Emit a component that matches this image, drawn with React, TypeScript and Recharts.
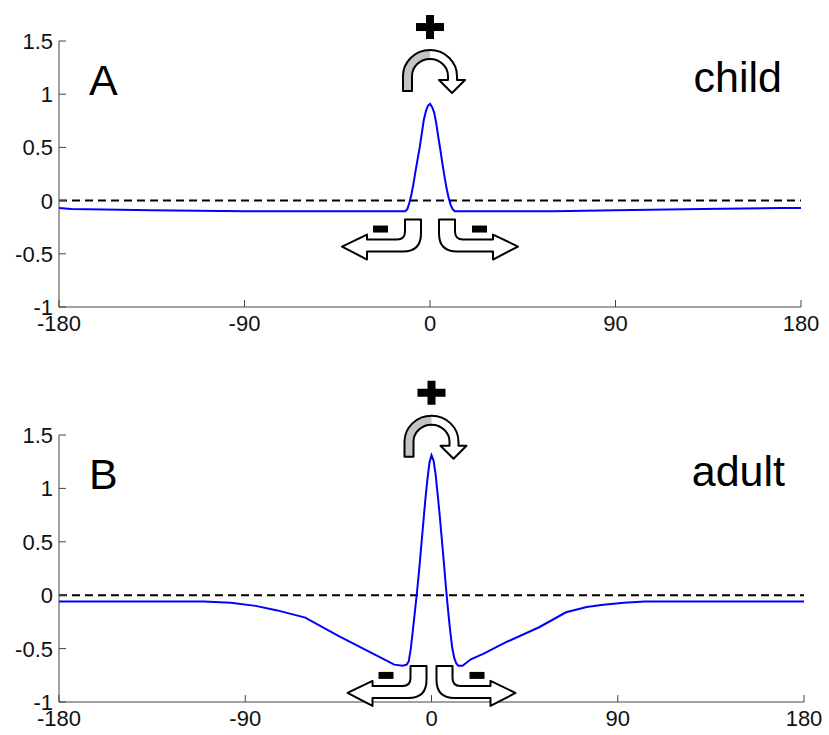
import { LineChart, Line, XAxis, YAxis, ReferenceLine, ReferenceDot } from 'recharts';

// tick labels
const angleTicks = [-180, -90, 0, 90, 180];
const valueTicks = [-1, -0.5, 0, 0.5, 1, 1.5];

// panel A: child
const childAngles = [
    -180, -174, -135, -90, -13, -12, -11, -10, -9, -8, -7, -6, -5, -4, -3, -2, -1, 0,
    1, 2, 3, 4, 5, 6, 7, 8, 9, 10, 11, 12, 13, 60, 90, 132, 170, 180,
];
const childValues = [
    -0.07, -0.08, -0.09, -0.1, -0.1, -0.1, -0.08, -0.02, 0.06, 0.16, 0.28, 0.39, 0.5, 0.63, 0.76, 0.84, 0.89, 0.91,
    0.88, 0.83, 0.73, 0.6, 0.48, 0.35, 0.23, 0.12, 0.03, -0.04, -0.08, -0.1, -0.1, -0.1, -0.09, -0.08, -0.07, -0.07,
];

// panel B: adult
const adultAngles = [
    -180, -110, -97, -85, -75, -61, -45, -29, -18, -14, -12, -11, -10, -9, -8, -7, -6, -5, -4, -3, -2, -1, 0,
    1, 2, 3, 4, 5, 6, 7, 8, 9, 10, 11, 12, 13, 15, 19, 25, 36, 52, 65, 75, 83, 93, 103, 180,
];
const adultValues = [
    -0.06, -0.06, -0.07, -0.1, -0.14, -0.21, -0.38, -0.54, -0.65, -0.66, -0.65, -0.62, -0.5, -0.33, -0.15, 0.03, 0.23, 0.45, 0.67, 0.89, 1.08, 1.24, 1.31,
    1.26, 1.13, 0.94, 0.74, 0.52, 0.3, 0.07, -0.14, -0.33, -0.49, -0.59, -0.64, -0.66, -0.66, -0.6, -0.55, -0.44, -0.3, -0.16, -0.11, -0.09, -0.07, -0.06, -0.06,
];

const font = '"Liberation Sans", Arial, sans-serif';
const frame = '#444';

function toRows(angles: number[], values: number[]) {
    return angles.map((a, i) => ({ angle: a, value: values[i] }));
}

const AngleTick = (props: any) => {
    const { x, y, payload } = props;
    return (
        <text x={x} y={y + 16} textAnchor="middle" fontFamily={font} fontSize={22} fill="#111">
            {payload.value}
        </text>
    );
};

const ValueTick = (props: any) => {
    const { x, y, payload } = props;
    return (
        <text x={x} y={y + 8} textAnchor="end" fontFamily={font} fontSize={22} fill="#111">
            {payload.value}
        </text>
    );
};

// curved arrow with the plus sign above the peak
const TopMark = (props: any) => {
    const { cx, cy } = props;
    const outline = 'M -27 41 L -27 26 A 27 26 0 0 1 27 26 L 27 30 L 35 30 L 22 43 L 9 30 L 18 30 L 18 26 A 18 17 0 0 0 -18 26 L -18 41 Z';
    const leftHalf = 'M -27 41 L -27 26 A 27 26 0 0 1 0 0 L 0 9 A 18 17 0 0 0 -18 26 L -18 41 Z';
    return (
        <g transform={`translate(${cx},${cy})`}>
            <rect x={-14} y={-27} width={28} height={8} fill="#000" />
            <rect x={-4} y={-35} width={8} height={24} fill="#000" />
            <path d={outline} fill="#fff" />
            <path d={leftHalf} fill="#c4c4c4" />
            <path d={outline} fill="none" stroke="#000" strokeWidth={2} strokeLinejoin="round" />
        </g>
    );
};

// the two outward arrows with minus signs under the peak
const makeBottomMark = (inset: number) => (props: any) => {
    const { cx, cy } = props;
    const arrow = 'M -9 0 L -9 14 Q -9 32 -27 32 L -63 32 L -63 40 L -88 27 L -63 15 L -63 20 L -33 20 Q -25 20 -25 12 L -25 0 Z';
    const half = (
        <g transform={`translate(${inset},0)`}>
            <path d={arrow} fill="#fff" stroke="#000" strokeWidth={2} strokeLinejoin="round" />
            <rect x={-57} y={6} width={15} height={7} fill="#000" />
        </g>
    );
    return (
        <g transform={`translate(${cx},${cy})`}>
            {half}
            <g transform="scale(-1,1)">{half}</g>
        </g>
    );
};

const makeText = (text: string, dx: number, dy: number, anchor: 'start' | 'end') => (props: any) => (
    <text
        x={props.cx + dx}
        y={props.cy + dy}
        textAnchor={anchor}
        fontFamily={font}
        fontSize={43}
        fill="#000"
    >
        {text}
    </text>
);

interface PanelProps {
    angles: number[];
    values: number[];
    letter: string;
    name: string;
    topAt: number;
    bottomAt: number;
    inset: number;
    height: number;
    margin: { top: number; right: number; bottom: number; left: number };
}

function Panel({ angles, values, letter, name, topAt, bottomAt, inset, height, margin }: PanelProps) {
    const data = toRows(angles, values);
    return (
        <LineChart width={829} height={height} data={data} margin={margin}>
            <XAxis
                dataKey="angle"
                type="number"
                domain={[-180, 180]}
                ticks={angleTicks}
                interval={0}
                height={30}
                tickSize={-7}
                tickMargin={15}
                axisLine={{ stroke: frame }}
                tickLine={{ stroke: frame }}
                tick={<AngleTick />}
            />
            <XAxis
                xAxisId="top"
                orientation="top"
                type="number"
                domain={[-180, 180]}
                ticks={angleTicks}
                interval={0}
                height={0}
                tickSize={-7}
                axisLine={{ stroke: frame }}
                tickLine={{ stroke: frame }}
                tick={false}
            />
            <YAxis
                type="number"
                domain={[-1, 1.5]}
                ticks={valueTicks}
                interval={0}
                width={50}
                tickSize={-7}
                tickMargin={13}
                axisLine={{ stroke: frame }}
                tickLine={{ stroke: frame }}
                tick={<ValueTick />}
            />
            <YAxis
                yAxisId="right"
                orientation="right"
                type="number"
                domain={[-1, 1.5]}
                ticks={valueTicks}
                interval={0}
                width={0}
                tickSize={-7}
                axisLine={{ stroke: frame }}
                tickLine={{ stroke: frame }}
                tick={false}
            />
            <ReferenceLine y={0} stroke="#000" strokeWidth={2} strokeDasharray="8 5" />
            <Line
                type="linear"
                dataKey="value"
                stroke="#0000ff"
                strokeWidth={2}
                dot={false}
                isAnimationActive={false}
            />
            <ReferenceDot x={-180} y={1.5} r={0} ifOverflow="visible" shape={makeText(letter, 30, 54, 'start')} />
            <ReferenceDot x={180} y={1.5} r={0} ifOverflow="visible" shape={makeText(name, -19, 51, 'end')} />
            <ReferenceDot x={0} y={topAt} r={0} ifOverflow="visible" shape={TopMark} />
            <ReferenceDot x={0} y={bottomAt} r={0} ifOverflow="visible" shape={makeBottomMark(inset)} />
        </LineChart>
    );
}

export default function App() {
    return (
        <div style={{ position: 'absolute', left: 0, top: 0, width: 829, height: 735, background: '#fff' }}>
            <div style={{ position: 'absolute', left: 0, top: 0 }}>
                <Panel
                    angles={childAngles}
                    values={childValues}
                    letter="A"
                    name="child"
                    topAt={1.415}
                    bottomAt={-0.178}
                    inset={0}
                    height={367}
                    margin={{ top: 41, right: 28, bottom: 30, left: 9 }}
                />
            </div>
            <div style={{ position: 'absolute', left: 0, top: 367 }}>
                <Panel
                    angles={adultAngles}
                    values={adultValues}
                    letter="B"
                    name="adult"
                    topAt={1.68}
                    bottomAt={-0.662}
                    inset={4}
                    height={368}
                    margin={{ top: 68, right: 25, bottom: 3, left: 9 }}
                />
            </div>
        </div>
    );
}
